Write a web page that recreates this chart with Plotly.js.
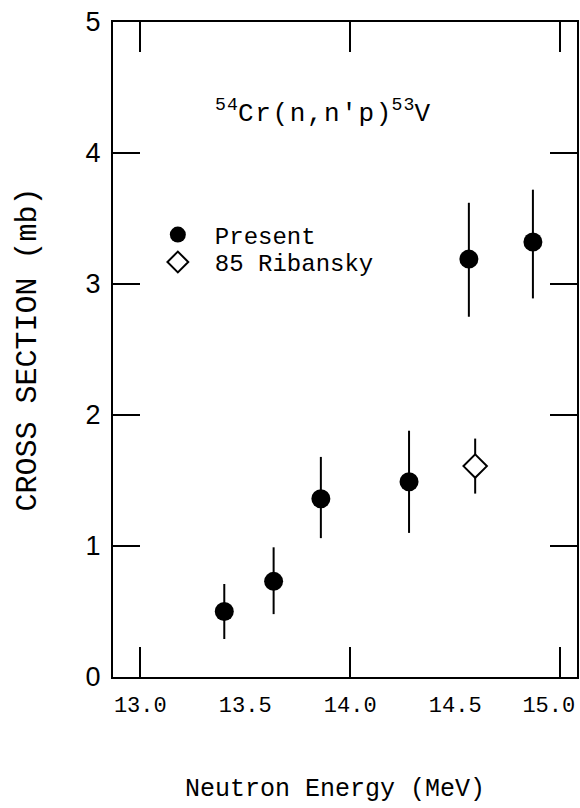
<!DOCTYPE html>
<html>
<head>
<meta charset="utf-8">
<script src="https://cdn.plot.ly/plotly-3.0.1.min.js"></script>
<style>html,body{margin:0;padding:0;background:#fff;}#chart{width:580px;height:808px;}</style>
</head>
<body>
<div id="chart"></div>
<script>
// Present measurement
const presentEnergy = [13.40, 13.635, 13.86, 14.28, 14.565, 14.87];
const presentXS     = [0.50, 0.73, 1.36, 1.49, 3.19, 3.32];
const presentErrUp  = [0.21, 0.26, 0.32, 0.39, 0.43, 0.40];
const presentErrDn  = [0.21, 0.25, 0.30, 0.39, 0.44, 0.43];
// 85 Ribansky
const ribEnergy = [14.595];
const ribXS     = [1.61];
const ribErr    = [0.21];
// axis ticks
const xLabelVals = [13.0, 13.5, 14.0, 14.5];
const xLabelText = ['13.0', '13.5', '14.0', '14.5'];
const xLastVal   = [15.0];
const xLastText  = ['15.0'];
const xTickVals  = [13.0, 14.0, 15.0];
const yTickVals  = [0, 1, 2, 3, 4, 5];

const mono = 'Liberation Mono, DejaVu Sans Mono, monospace';
const sans = 'Liberation Sans, Arial, sans-serif';

const traces = [
  {
    x: presentEnergy, y: presentXS, name: 'Present',
    type: 'scatter', mode: 'markers',
    marker: {symbol: 'circle', size: 19, color: '#000'},
    error_y: {type: 'data', symmetric: false, array: presentErrUp, arrayminus: presentErrDn,
              color: '#000', thickness: 2, width: 0},
    xaxis: 'x', yaxis: 'y', legend: 'legend'
  },
  {
    x: ribEnergy, y: ribXS, name: '85 Ribansky',
    type: 'scatter', mode: 'markers',
    marker: {symbol: 'diamond', size: 18, color: '#fff', line: {color: '#000', width: 2}},
    error_y: {type: 'data', array: ribErr, color: '#000', thickness: 2, width: 0},
    xaxis: 'x2', yaxis: 'y', legend: 'legend2'
  },
  {
    // empty helper trace so the last-label axis is drawn
    x: [], y: [], type: 'scatter', mode: 'markers', showlegend: false, hoverinfo: 'skip',
    xaxis: 'x3', yaxis: 'y'
  }
];

const legendFont = {family: mono, size: 24, color: '#000'};
const xr = [12.87, 15.08];
const tickFontX = {family: mono, size: 22, color: '#000'};
const layout = {
  width: 580, height: 808,
  margin: {l: 113, r: 3, t: 22, b: 131},
  paper_bgcolor: '#fff', plot_bgcolor: '#fff',
  showlegend: true,
  legend: {
    x: 0.06, y: 0.6748, xanchor: 'left', yanchor: 'middle',
    bgcolor: 'rgba(0,0,0,0)', borderwidth: 0, itemwidth: 64, font: legendFont
  },
  legend2: {
    x: 0.06, y: 0.633, xanchor: 'left', yanchor: 'middle',
    bgcolor: 'rgba(0,0,0,0)', borderwidth: 0, itemwidth: 64, font: legendFont
  },
  xaxis: {
    range: xr, tickmode: 'array', tickvals: xLabelVals, ticktext: xLabelText,
    ticks: '', showgrid: false, zeroline: false,
    showline: true, linecolor: '#000', linewidth: 2, mirror: true,
    tickfont: tickFontX, ticklabelstandoff: 7
  },
  xaxis2: {
    range: xr, overlaying: 'x', anchor: 'y', side: 'bottom',
    tickmode: 'array', tickvals: xTickVals, ticks: 'inside', ticklen: 30, tickwidth: 2, tickcolor: '#000',
    mirror: 'ticks', showline: false, showticklabels: false, showgrid: false, zeroline: false
  },
  xaxis3: {
    range: xr, overlaying: 'x', anchor: 'y', side: 'bottom',
    tickmode: 'array', tickvals: xLastVal, ticktext: xLastText, ticks: '',
    ticklabelposition: 'outside left', ticklabelshift: 15, ticklabelstandoff: 12,
    tickfont: tickFontX, showline: false, showgrid: false, zeroline: false
  },
  yaxis: {
    range: [0, 5], tickmode: 'array', tickvals: yTickVals,
    ticks: 'inside', ticklen: 27, tickwidth: 2, tickcolor: '#000',
    showgrid: false, zeroline: false,
    showline: true, linecolor: '#000', linewidth: 2, mirror: 'ticks',
    tickfont: {family: sans, size: 27, color: '#000'},
    ticklabelstandoff: 5,
    title: {text: 'CROSS SECTION (mb)', font: {family: mono, size: 30, color: '#000'}, standoff: 40}
  },
  annotations: [
    {
      xref: 'paper', yref: 'paper', x: 0.452, y: 0.862, xanchor: 'center', yanchor: 'middle',
      showarrow: false,
      text: '<sup>5\u200a4</sup>C\u200ar\u200a(\u200an\u200a,\u200an\u200a\'\u200ap\u200a)<sup>5\u200a3</sup>V',
      font: {family: mono, size: 26, color: '#000'}
    },
    {
      xref: 'paper', yref: 'paper', x: 0.478, y: -0.171, xanchor: 'center', yanchor: 'middle',
      showarrow: false,
      text: 'Neutron Energy (MeV)',
      font: {family: mono, size: 25, color: '#000'}
    }
  ]
};

Plotly.newPlot('chart', traces, layout, {displayModeBar: false, staticPlot: true});
</script>
</body>
</html>
